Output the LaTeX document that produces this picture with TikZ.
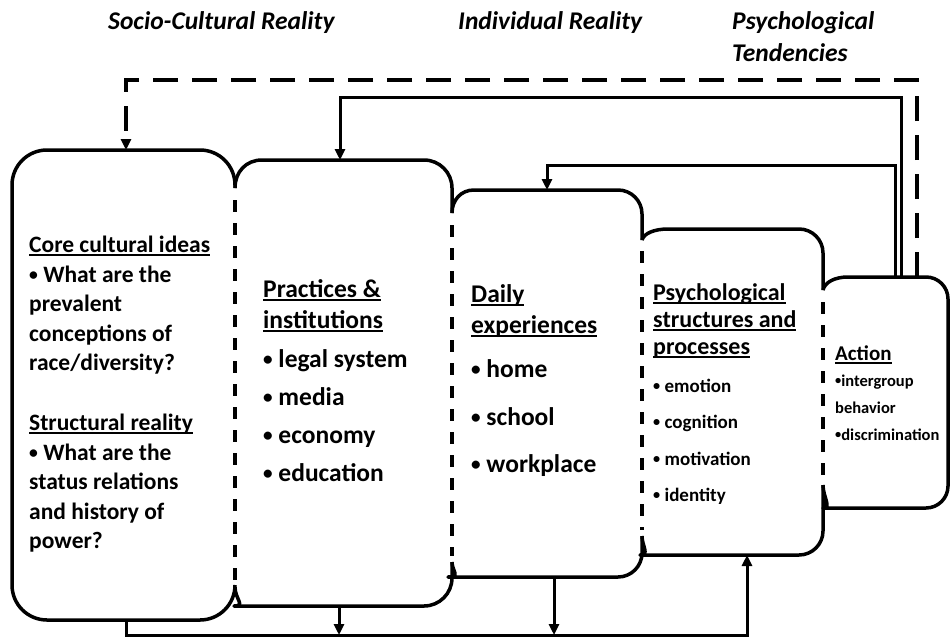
\documentclass[tikz,border=0pt]{standalone}
\usepackage{fontspec}
\usepackage{graphicx}
\setmainfont{Carlito}
\usetikzlibrary{arrows.meta}
\newcommand\hd[1]{\setbox0\hbox{#1}\rlap{\rule[-0.17em]{\wd0}{0.075em}}\box0}
\newcommand\bu{\raisebox{0.07em}{\scalebox{0.75}{•}}}
\begin{document}
\begin{tikzpicture}[x=1pt,y=-1pt,
  box/.style={line width=3.5pt, line join=round},
  sep/.style={line width=3.5pt, dash pattern=on 12pt off 11pt},
  conn/.style={line width=3pt, -{Triangle[length=11pt,width=10pt]}},
  fb/.style={line width=3.5pt, dash pattern=on 25pt off 14pt, -{Triangle[length=11pt,width=10pt]}},
  ttl/.style={font=\fontsize{25.5}{30}\selectfont\bfseries\itshape, inner sep=0pt, anchor=base west},
  ta/.style={font=\fontsize{23.5}{28}\selectfont\bfseries, inner sep=0pt, anchor=base west},
  tb/.style={font=\fontsize{25.5}{30}\selectfont\bfseries, inner sep=0pt, anchor=base west},
  tc/.style={font=\fontsize{24}{28}\selectfont\bfseries, inner sep=0pt, anchor=base west},
  td/.style={font=\fontsize{19}{22}\selectfont\bfseries, inner sep=0pt, anchor=base west},
  te/.style={font=\fontsize{21}{24}\selectfont\bfseries, inner sep=0pt, anchor=base west},
  tf/.style={font=\fontsize{16.5}{20}\selectfont\bfseries, inner sep=0pt, anchor=base west}
]
\useasboundingbox (0,0) rectangle (952,640);
\fill[white] (0,0) rectangle (952,640);

% titles
\node[ttl] (tsc) at (108,29) {Socio-Cultural Reality};
\node[ttl] (tir) at (458,29) {Individual Reality};
\node[ttl] (tpa) at (732,29) {Psychological};
\node[ttl] (tpb) at (732,61) {Tendencies};

% box 1
\draw[box, rounded corners=35pt] (235,188) -- (235,150) -- (12,150) -- (12,620) -- (235,620) -- (235,585);
% box 2
\draw[box] (235,188) .. controls (235,172) and (246,160) .. (262,160) [rounded corners=28pt] -- (452,160) -- (452,213);
\draw[box] (452,562) [rounded corners=28pt] -- (452,606) -- (262,606) [sharp corners] .. controls (246,606) and (235,599) .. (235,587);
% box 3
\draw[box] (452,213) .. controls (452,200) and (461,190) .. (474,190) [rounded corners=24pt] -- (642,190) -- (642,240);
\draw[box] (642,536) [rounded corners=24pt] -- (642,577) -- (472,577) [sharp corners] .. controls (461,577) and (452,571) .. (452,562);
% box 4
\draw[box] (642,240) .. controls (644,233) and (655,229) .. (668,229) [rounded corners=24pt] -- (823,229) -- (823,290);
\draw[box] (823,485) [rounded corners=24pt] -- (823,555) -- (664,555) [sharp corners] .. controls (650,555) and (642,546) .. (642,536);
% box 5
\draw[box] (823,290) .. controls (825,282) and (835,277) .. (848,277) [rounded corners=22pt] -- (948,277) -- (948,508) -- (845,508) [sharp corners] .. controls (832,508) and (823,497) .. (823,485);

% separators
\draw[sep] (235,200) -- (235,580);
\draw[sep] (452,225) -- (452,556);
\draw[sep] (642,251) -- (642,530);
\draw[sep] (823,302) -- (823,479);

% box 1 text
\node[ta] (a1) at (29,252) {\hd{Core cultural ideas}};
\node[ta] (a2) at (29,282) {\bu{} What are the};
\node[ta] (a3) at (29,311) {prevalent};
\node[ta] (a4) at (29,341) {conceptions of};
\node[ta] (a5) at (29,370) {race/diversity?};
\node[ta] (a6) at (29,430) {\hd{Structural reality}};
\node[ta] (a7) at (29,460) {\bu{} What are the};
\node[ta] (a8) at (29,489) {status relations};
\node[ta] (a9) at (29,519) {and history of};
\node[ta] (a10) at (29,548) {power?};

% box 2 text
\node[tb] (b1) at (263,297) {\hd{Practices \&}};
\node[tb] (b2) at (263,328) {\hd{institutions}};
\node[tb] (b3) at (263,367) {\bu{} legal system};
\node[tb] (b4) at (263,405) {\bu{} media};
\node[tb] (b5) at (263,443) {\bu{} economy};
\node[tb] (b6) at (263,481) {\bu{} education};

% box 3 text
\node[tb] (c1) at (471,302) {\hd{Daily}};
\node[tb] (c2) at (471,333) {\hd{experiences}};
\node[tb] (c3) at (471,377) {\bu{} home};
\node[tb] (c4) at (471,425) {\bu{} school};
\node[tb] (c5) at (471,472) {\bu{} workplace};

% box 4 text
\node[tc] (d1) at (653,300) {\hd{Psychological}};
\node[tc] (d2) at (653,327) {\hd{structures and}};
\node[tc] (d3) at (653,354) {\hd{processes}};
\node[td] (d4) at (653,392) {\bu{} emotion};
\node[td] (d5) at (653,428) {\bu{} cognition};
\node[td] (d6) at (653,465) {\bu{} motivation};
\node[td] (d7) at (653,501) {\bu{} identity};

% box 5 text
\node[te] (e1) at (835,360) {\hd{Action}};
\node[tf] (e2) at (835,386) {\bu intergroup};
\node[tf] (e3) at (835,413) {behavior};
\node[tf] (e4) at (835,440) {\bu discrimination};

% connector anchors
\coordinate (c1t) at (126,150);
\coordinate (c2t) at (340,160);
\coordinate (c3t) at (547,190);
\coordinate (c5d) at (917,277);
\coordinate (c5s) at (901,277);
\coordinate (c5r) at (895,277);
\coordinate (yd) at (0,80);
\coordinate (ys) at (0,97);
\coordinate (yr) at (0,165);
\coordinate (c1b) at (126,620);
\coordinate (c2b) at (339,606);
\coordinate (c3b) at (554,577);
\coordinate (c4b) at (747,555);
\coordinate (yb) at (0,635);

% feedback connectors
\draw[fb] (c5d) -- (c5d |- yd) -- (c1t |- yd) -- (c1t);
\draw[conn] (c5s) -- (c5s |- ys) -- (c2t |- ys) -- (c2t);
\draw[conn] (c5r) -- (c5r |- yr) -- (c3t |- yr) -- (c3t);

% bottom connectors
\draw[conn] (c1b) -- (c1b |- yb) -- (c4b |- yb) -- (c4b);
\draw[conn] (c2b) -- (c2b |- yb);
\draw[conn] (c3b) -- (c3b |- yb);
\end{tikzpicture}
\end{document}
